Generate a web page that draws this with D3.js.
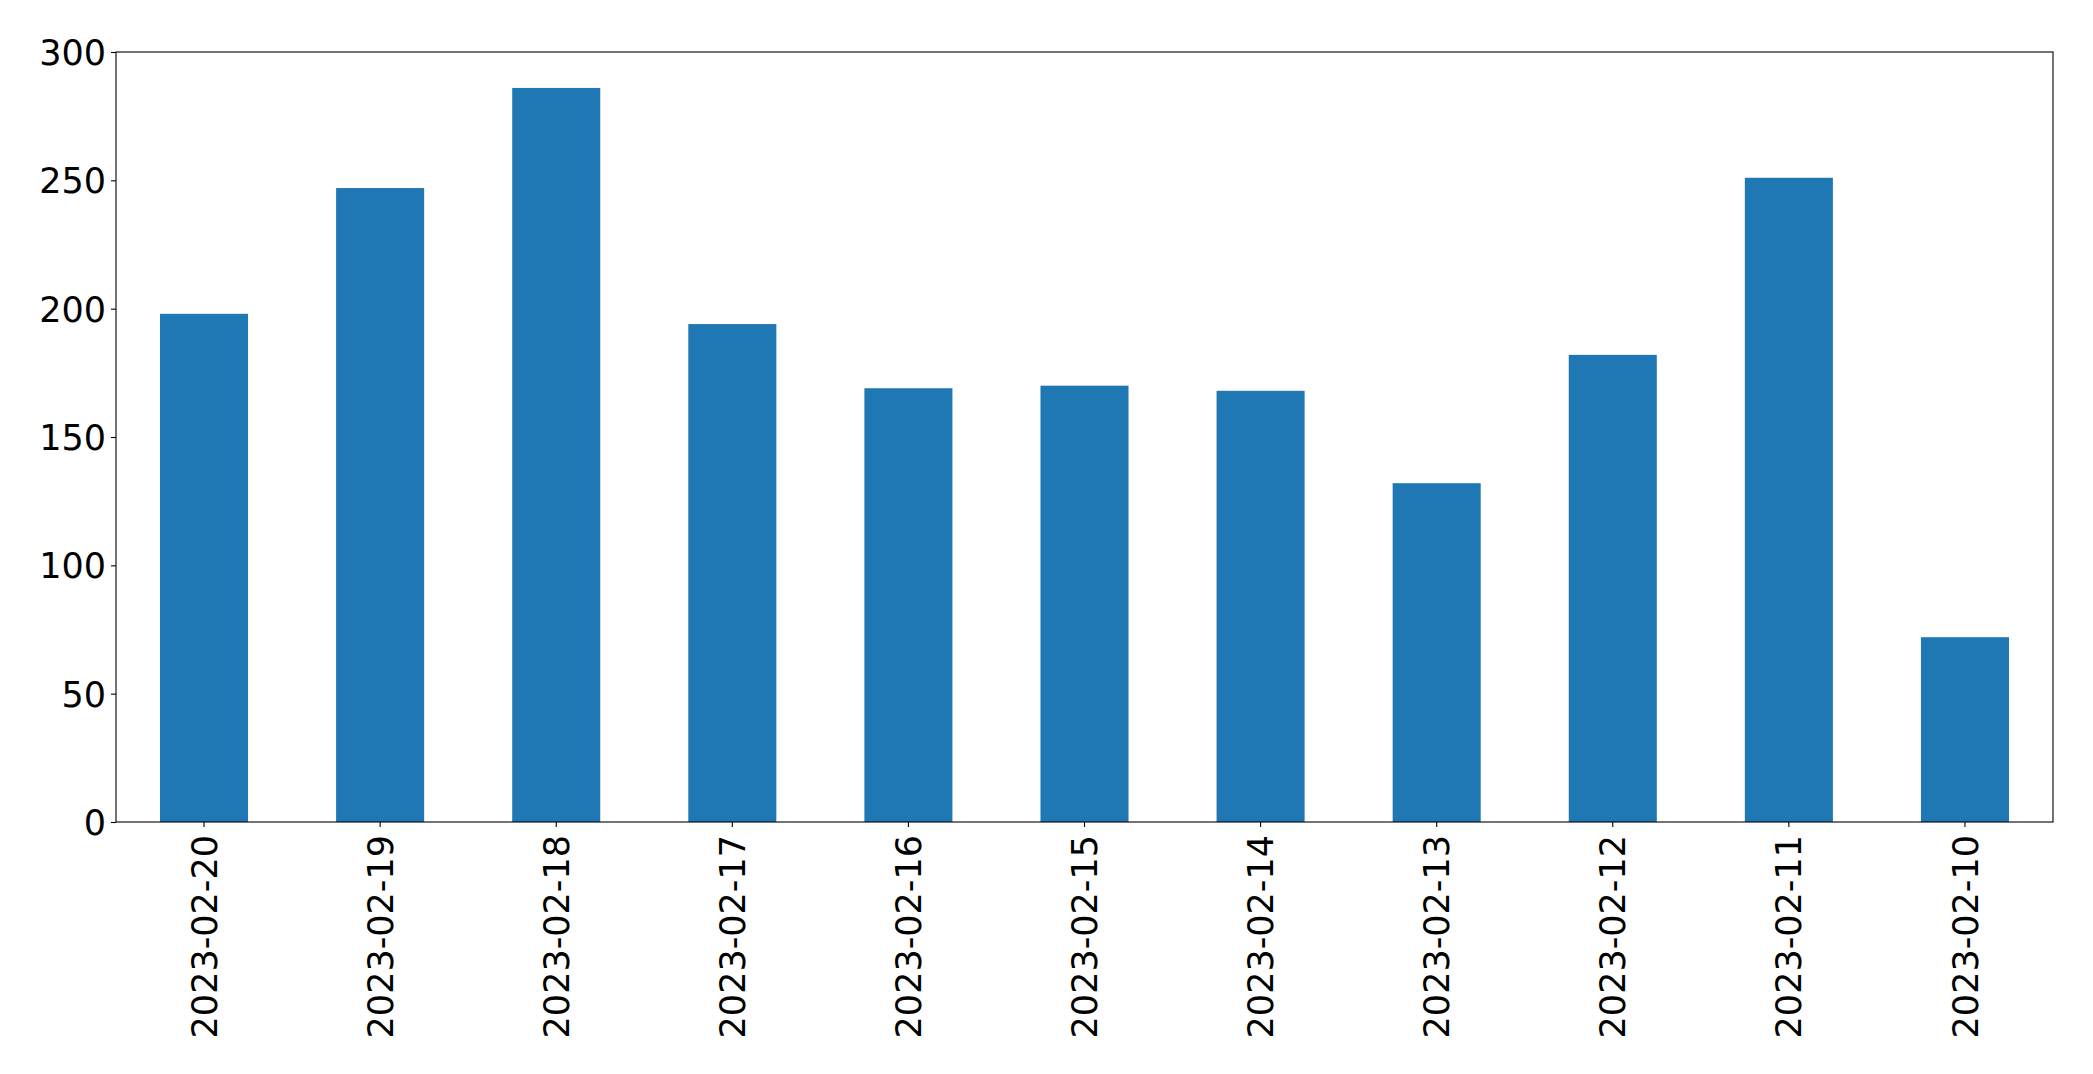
<!DOCTYPE html>
<html>
<head>
<meta charset="utf-8">
<script src="https://cdn.jsdelivr.net/npm/d3@7"></script>
<style>
  html, body { margin: 0; padding: 0; background: #fff; }
  svg text { font-family: "DejaVu Sans", sans-serif; fill: #000; }
</style>
</head>
<body>
<div id="chart"></div>
<script>
// Daily counts, newest first (as in the source plot)
var dates  = ['2023-02-20', '2023-02-19', '2023-02-18', '2023-02-17', '2023-02-16',
              '2023-02-15', '2023-02-14', '2023-02-13', '2023-02-12', '2023-02-11', '2023-02-10'];
var counts = [198, 247, 286, 194, 169, 170, 168, 132, 182, 251, 72];
var yTicks = [0, 50, 100, 150, 200, 250, 300];

var W = 2093, H = 1074;
var margin = { top: 52, right: 40, bottom: 252, left: 116 };
var iw = W - margin.left - margin.right;
var ih = H - margin.top - margin.bottom;

var svg = d3.select('#chart')
  .append('svg')
  .attr('width', W)
  .attr('height', H);

var g = svg.append('g')
  .attr('transform', 'translate(' + margin.left + ',' + margin.top + ')');

var x = d3.scaleBand()
  .domain(dates)
  .range([0, iw])
  .paddingInner(0.5)
  .paddingOuter(0.25);

var y = d3.scaleLinear()
  .domain([0, 300])
  .range([ih, 0]);

// Bars
g.selectAll('.bar')
  .data(dates)
  .enter()
  .append('rect')
  .attr('class', 'bar')
  .attr('x', function(d){ return x(d); })
  .attr('y', function(d, i){ return y(counts[i]); })
  .attr('width', x.bandwidth())
  .attr('height', function(d, i){ return ih - y(counts[i]); })
  .style('fill', '#1f77b4');

// Y axis
var yAxis = g.append('g')
  .call(d3.axisLeft(y).tickValues(yTicks).tickSize(5).tickPadding(5));
yAxis.select('.domain').remove();
yAxis.selectAll('text')
  .style('font-size', '35px')
  .attr('dy', '0.36em');
yAxis.selectAll('line').style('stroke', '#000').style('stroke-width', 1.1);

// X axis
var xAxis = g.append('g')
  .attr('transform', 'translate(0,' + ih + ')')
  .call(d3.axisBottom(x).tickSize(5).tickPadding(0));
xAxis.select('.domain').remove();
xAxis.selectAll('line').style('stroke', '#000').style('stroke-width', 1.1);
xAxis.selectAll('text')
  .style('font-size', '35px')
  .attr('text-anchor', 'end')
  .attr('transform', 'translate(0,13) rotate(-90)')
  .attr('x', 0)
  .attr('y', 0)
  .attr('dy', '0.36em');

// Frame
g.append('rect')
  .attr('x', 0)
  .attr('y', 0)
  .attr('width', iw)
  .attr('height', ih)
  .style('fill', 'none')
  .style('stroke', '#000')
  .style('stroke-width', 1.1);
</script>
</body>
</html>
